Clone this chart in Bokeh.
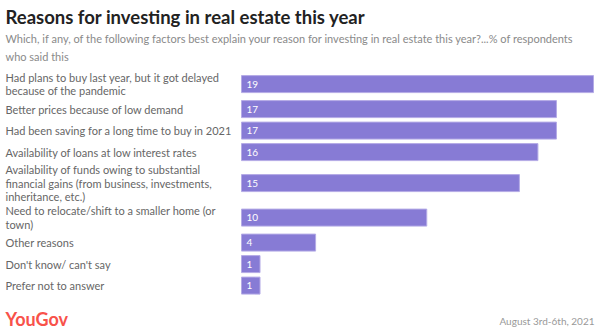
from bokeh.plotting import figure
from bokeh.models import Range1d, ColumnDataSource
from bokeh.core.properties import value
from bokeh.embed import file_html
from bokeh.resources import INLINE

# ---- data ----
categories = [
    "Had plans to buy last year, but it got delayed\nbecause of the pandemic",
    "Better prices because of low demand",
    "Had been saving for a long time to buy in 2021",
    "Availability of loans at low interest rates",
    "Availability of funds owing to substantial\nfinancial gains (from business, investments,\ninheritance, etc.)",
    "Need to relocate/shift to a smaller home (or\ntown)",
    "Other reasons",
    "Don't know/ can't say",
    "Prefer not to answer",
]
values = [19, 17, 17, 16, 15, 10, 4, 1, 1]

title_text = "Reasons for investing in real estate this year"
subtitle_text = ("Which, if any, of the following factors best explain your reason for investing in real estate this year?...% of respondents\n"
                 "who said this")
source_text = "August 3rd-6th, 2021"
brand_text = "YouGov"

# ---- layout ----
W, H = 602, 332
FONT = "Lato"
BAR_LEFT_PX, BAR_RIGHT_PX = 241, 593
px_per_unit = (BAR_RIGHT_PX - BAR_LEFT_PX) / max(values)

# row layout from number of label lines
centers = []
top = 69.35
for c in categories:
    n = c.count("\n") + 1
    h = max(17, 12 * n) + 4.5
    centers.append(top + h / 2)
    top += h

p = figure(width=W, height=H, output_backend="svg", toolbar_location=None,
           x_range=Range1d(-BAR_LEFT_PX / px_per_unit, (W - BAR_LEFT_PX) / px_per_unit),
           y_range=Range1d(H, 0), min_border=0)
p.extra_x_ranges = {"px": Range1d(0, W)}
p.axis.visible = False
p.grid.visible = False
p.outline_line_color = None
p.background_fill_color = "white"
p.border_fill_color = "white"

src = ColumnDataSource(dict(y=centers, v=values, cat=categories,
                            lbl=[str(v) for v in values]))

p.hbar(y="y", left=0, right="v", height=17, source=src,
       fill_color="#877bd5", line_color="#b4abe6", line_width=1)

# value labels inside bars
p.text(x=246, y="y", text="lbl", source=src, x_range_name="px",
       text_font=value(FONT), text_font_size="10px", text_color="white",
       text_baseline="middle", text_align="left")

# category labels
p.text(x=5, y="y", text="cat", source=src, x_range_name="px",
       text_font=value(FONT), text_font_size="11px", text_color="#666666",
       text_baseline="middle", text_align="left", text_line_height=1.05)

# title, subtitle
p.text(x=[5], y=[5], text=[title_text], x_range_name="px",
       text_font=value(FONT), text_font_size="18.5px", text_font_style="bold",
       text_color="#222222", text_baseline="top", text_align="left")
p.text(x=[5], y=[31.5], text=[subtitle_text], x_range_name="px",
       text_font=value(FONT), text_font_size="11px", text_color="#8a8a8a",
       text_baseline="top", text_align="left", text_line_height=1.4)

# footer
p.text(x=[5], y=[318], text=[brand_text], x_range_name="px",
       text_font=value(FONT), text_font_size="18px", text_font_style="bold",
       text_color="#f8524a", text_baseline="middle", text_align="left")
p.text(x=[594], y=[320.5], text=[source_text], x_range_name="px",
       text_font=value(FONT), text_font_size="10px", text_color="#999999",
       text_baseline="middle", text_align="right")

open("out.html", "w").write(file_html(p, INLINE))
